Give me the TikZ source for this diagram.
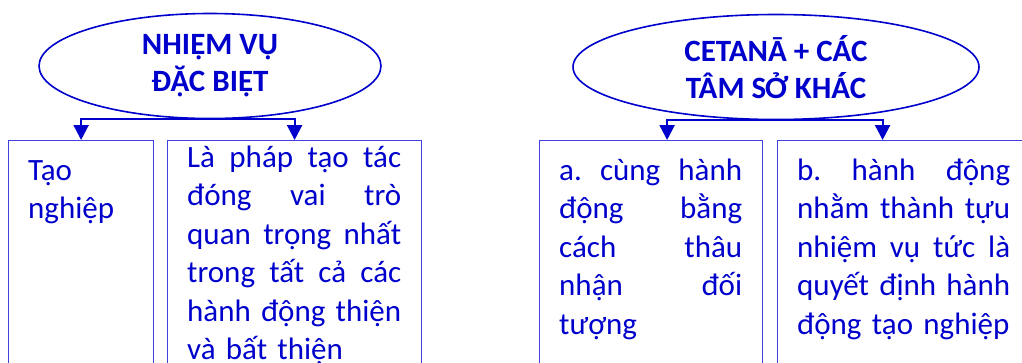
\documentclass[tikz,border=0pt]{standalone}
\usepackage{fontspec}
\setmainfont{Carlito}
\usetikzlibrary{shapes.geometric,arrows.meta}
\definecolor{dblue}{RGB}{0,0,204}
\definecolor{lblue}{RGB}{64,64,221}
\newcommand{\jline}[1]{\noindent\hbox to \hsize{\spaceskip=0pt\xspaceskip=0pt #1}\par}

\begin{document}
\begin{tikzpicture}[x=1pt,y=-1pt,
    title/.style={ellipse,draw=dblue,line width=1.6pt,inner sep=0pt,minimum height=105pt,text=dblue,align=center,font=\bfseries\fontsize{31}{37}\selectfont},
    box/.style={draw=lblue,line width=1.2pt,anchor=north west,minimum height=240pt},
    txt/.style={anchor=base west,inner sep=0pt,text=dblue,align=left,font=\frenchspacing\fontsize{31}{38.5}\selectfont},
    conn/.style={draw=dblue,line width=2.2pt,-{Triangle[length=15pt,width=15pt]}}]
  \useasboundingbox (0,0) rectangle (1022,362);

  \node[title,minimum width=342pt] (nv) at (210,66) {NHIỆM VỤ\\ĐẶC BIỆT};
  \node[box,minimum width=145pt] (tao) at (8,140) {};
  \node[box,minimum width=254pt] (phap) at (167,140) {};
  \draw[conn] (nv.south) -| (tao.north);
  \draw[conn] (nv.south) -| (phap.north);
  \node[txt,text width=120pt] at ([shift={(20,40)}]tao.north west) {Tạo\\nghiệp};
  \node[txt,text width=214pt] at ([shift={(20,27)}]phap.north west)
    {\jline{Là pháp tạo tác}\jline{đóng vai trò}\jline{quan trọng nhất}\jline{trong tất cả các}\jline{hành động thiện}\noindent và bất thiện};

  \node[title,minimum width=406pt] (ct) at (776,67) {CETANĀ + CÁC\\TÂM SỞ KHÁC};
  \node[box,minimum width=223pt] (ca) at (539,140) {};
  \node[box,minimum width=260pt] (cb) at (777,140) {};
  \draw[conn] (ct.south) -| ([xshift=16pt]ca.north);
  \draw[conn] (ct.south) -| ([xshift=-25pt]cb.north);
  \node[txt,text width=183pt] at ([shift={(20,40)}]ca.north west)
    {\jline{a. cùng hành}\jline{động bằng}\jline{cách thâu}\jline{nhận đối}\noindent tượng};
  \node[txt,text width=213pt] at ([shift={(20,40)}]cb.north west)
    {\jline{b. hành động}\jline{nhằm thành tựu}\jline{nhiệm vụ tức là}\jline{quyết định hành}\noindent động tạo nghiệp};
\end{tikzpicture}
\end{document}
